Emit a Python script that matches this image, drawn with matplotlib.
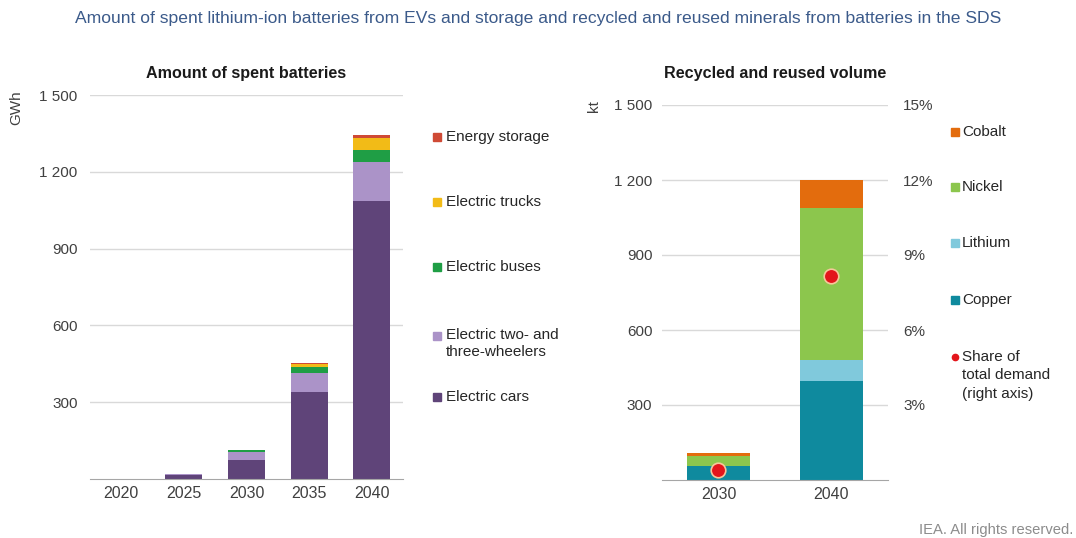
import matplotlib
matplotlib.use("Agg")
import matplotlib.pyplot as plt
import numpy as np
from matplotlib.lines import Line2D

plt.rcParams["font.family"] = ["Liberation Sans", "DejaVu Sans"]

# Spent batteries (GWh)
years_left = ["2020", "2025", "2030", "2035", "2040"]
cars = [1, 14, 75, 341, 1087]
two_three_wheelers = [0, 5, 30, 74, 150]
buses = [0, 1, 7, 24, 47]
trucks = [0, 0, 2, 10, 47]
storage = [0, 0, 1, 6, 11]

# Recycled and reused minerals (kt) and share of total demand (%)
years_right = ["2030", "2040"]
copper = [55, 395]
lithium = [3, 85]
nickel = [38, 610]
cobalt = [12, 110]
share = [0.4, 8.15]

left_series = [
    ("Electric cars", cars, "#5f4479"),
    ("Electric two- and\nthree-wheelers", two_three_wheelers, "#ab93c8"),
    ("Electric buses", buses, "#1f9e45"),
    ("Electric trucks", trucks, "#f2bb17"),
    ("Energy storage", storage, "#cf4a35"),
]
right_series = [
    ("Copper", copper, "#0f8a9e"),
    ("Lithium", lithium, "#80c9dc"),
    ("Nickel", nickel, "#8cc64d"),
    ("Cobalt", cobalt, "#e36c0d"),
]

W, H = 1076, 538
fig = plt.figure(figsize=(W / 100, H / 100), dpi=100)


def fx(x):
    return x / W


def fy(y):
    return 1 - y / H


def style_axis(ax, ticks, labels, ypad):
    ax.set_ylim(0, 1500)
    ax.set_yticks([300, 600, 900, 1200, 1500])
    ax.set_yticklabels(["300", "600", "900", "1 200", "1 500"])
    ax.set_xticks(ticks)
    ax.set_xticklabels(labels)
    ax.set_xlim(-0.5, len(labels) - 0.5)
    ax.grid(axis="y", color="#d9d9d9", linewidth=1)
    ax.set_axisbelow(True)
    for s in ["top", "right", "left"]:
        ax.spines[s].set_visible(False)
    ax.spines["bottom"].set_color("#a6a6a6")
    ax.tick_params(axis="y", length=0, pad=ypad, labelsize=11, labelcolor="#404040")
    ax.tick_params(axis="x", length=0, pad=5, labelsize=11.5, labelcolor="#404040")


# Left panel
ax1 = fig.add_axes([fx(90), fy(479), fx(403 - 90), (479 - 95) / H])
x1 = np.arange(len(years_left))
bottom = np.zeros(len(years_left))
for name, vals, col in left_series:
    ax1.bar(x1, vals, 0.59, bottom=bottom, color=col, label=name)
    bottom += np.array(vals)
style_axis(ax1, x1, years_left, 9)
ax1.set_title("Amount of spent batteries", fontsize=11.6, fontweight="bold",
              color="#1a1a1a", pad=12)
fig.text(fx(16), fy(90), "GWh", rotation=90, ha="center", va="top",
         fontsize=11, color="#404040")

# Right panel
ax2 = fig.add_axes([fx(662), fy(480), fx(888 - 662), (480 - 105) / H])
x2 = np.arange(len(years_right))
bottom = np.zeros(len(years_right))
for name, vals, col in right_series:
    ax2.bar(x2, vals, 0.56, bottom=bottom, color=col, label=name)
    bottom += np.array(vals)
style_axis(ax2, x2, years_right, 7)
ax2.set_title("Recycled and reused volume", fontsize=11.6, fontweight="bold",
              color="#1a1a1a", pad=19.5)
fig.text(fx(594), fy(100), "kt", rotation=90, ha="center", va="top",
         fontsize=11, color="#404040")

ax3 = ax2.twinx()
ax3.set_ylim(0, 15)
ax3.set_yticks([3, 6, 9, 12, 15])
ax3.set_yticklabels(["3%", "6%", "9%", "12%", "15%"])
ax3.tick_params(axis="y", length=0, pad=11, labelsize=11, labelcolor="#404040")
for s in ax3.spines.values():
    s.set_visible(False)
ax3.scatter(x2, share, s=110, color="#e3151b", edgecolors="#f6c79a",
            linewidths=1.2, zorder=5)

# Legends
left_rows = [("Energy storage", 137), ("Electric trucks", 202),
             ("Electric buses", 267), ("Electric two- and\nthree-wheelers", 336),
             ("Electric cars", 397)]
colors_left = {n: c for n, _, c in left_series}
for name, y in left_rows:
    fig.add_artist(Line2D([fx(437)], [fy(y)], marker="s", markersize=6,
                          color=colors_left[name], linestyle="none"))
    t = fig.text(fx(446), fy(y), name, ha="left", va="center",
                 fontsize=11, color="#262626", linespacing=1.3)
    if "\n" in name:
        t.set_va("top")
        t.set_y(fy(328))

right_rows = [("Cobalt", 132), ("Nickel", 187), ("Lithium", 243), ("Copper", 300)]
colors_right = {n: c for n, _, c in right_series}
for name, y in right_rows:
    fig.add_artist(Line2D([fx(955)], [fy(y)], marker="s", markersize=6,
                          color=colors_right[name], linestyle="none"))
    fig.text(fx(962), fy(y), name, ha="left", va="center", fontsize=11, color="#262626")
fig.add_artist(Line2D([fx(955)], [fy(357)], marker="o", markersize=4.5,
                      color="#e3151b", linestyle="none"))
fig.text(fx(962), fy(350), "Share of\ntotal demand\n(right axis)", ha="left", va="top",
         fontsize=11, color="#262626", linespacing=1.4)

fig.text(fx(538), fy(18), "Amount of spent lithium-ion batteries from EVs and storage "
         "and recycled and reused minerals from batteries in the SDS",
         ha="center", va="center", fontsize=12.6, color="#3b5a8a")
fig.text(fx(1073), fy(530), "IEA. All rights reserved.", ha="right", va="center",
         fontsize=10.6, color="#8c8c8c")

fig.savefig("out.png", dpi=100)
